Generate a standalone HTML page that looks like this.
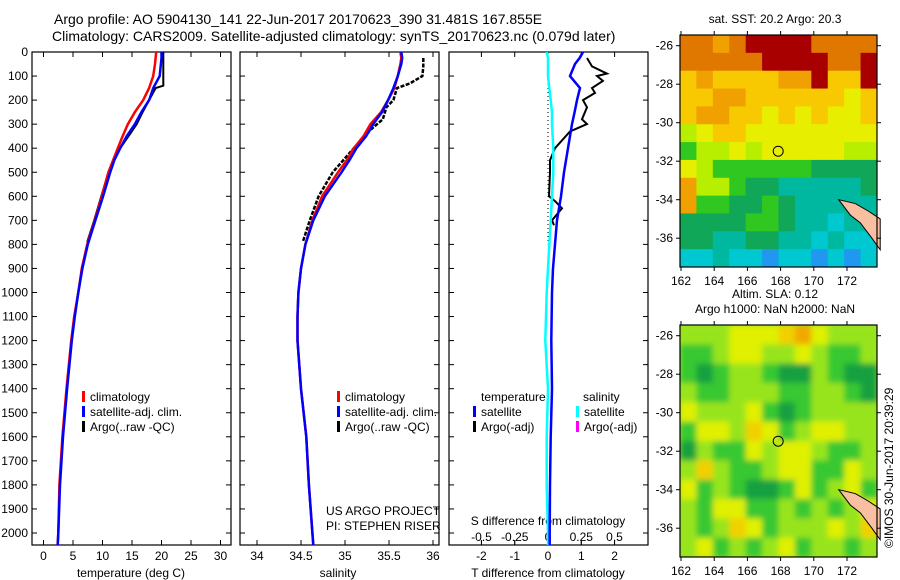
<!DOCTYPE html>
<html><head><meta charset="utf-8"><style>
body{margin:0;background:#fff;}
svg{display:block;font-family:"Liberation Sans",sans-serif;}
</style></head><body>
<svg id="chart" width="900" height="580" viewBox="0 0 900 580" xmlns="http://www.w3.org/2000/svg">
<defs>
<filter id="soft" x="0" y="0" width="1" height="1"><feGaussianBlur stdDeviation="3"/></filter>
<clipPath id="clipSla"><rect x="680" y="325" width="197" height="232"/></clipPath>
</defs>
<g id="g"></g>
</svg>
<script>
// ---- data ----
const depthClim = [0,25,50,100,150,200,250,300,350,400,450,500,600,700,800,900,1000,1100,1200,1400,1600,1800,2000,2050];
const tempClim  = [19.1,19.0,18.9,18.6,17.9,16.9,15.5,14.3,13.4,12.6,11.8,11.0,9.9,8.7,7.4,6.5,5.9,5.2,4.7,3.9,3.2,2.7,2.5,2.4];
const tempSat   = [20.0,20.0,19.9,19.7,18.6,17.9,16.6,15.5,14.1,13.0,12.0,11.3,10.1,8.8,7.5,6.6,5.9,5.3,4.8,4.0,3.3,2.8,2.5,2.4];
const salClim   = [35.63,35.64,35.63,35.60,35.56,35.49,35.41,35.29,35.21,35.10,35.02,34.92,34.74,34.63,34.55,34.50,34.47,34.46,34.46,34.50,34.56,34.59,34.63,34.64];
const salSat    = [35.64,35.65,35.64,35.60,35.55,35.49,35.42,35.32,35.24,35.13,35.05,34.96,34.77,34.64,34.55,34.50,34.47,34.46,34.46,34.50,34.56,34.59,34.63,34.64];
const depthArgo = [0,50,100,140,150,200,250,300,350,400,450,500,600,700,790];
const tempArgo  = [20.3,20.3,20.3,20.3,19.0,17.9,16.8,15.8,14.4,13.0,11.9,11.0,9.8,8.6,7.4];
const depthArgoS = [25,60,100,130,150,200,230,280,320,400,500,600,700,790];
const salArgo    = [35.89,35.89,35.88,35.74,35.59,35.55,35.47,35.43,35.30,35.10,34.86,34.70,34.60,34.52];
const depthDiff  = [0,25,50,100,150,200,250,300,400,500,600,700,800,900,1000,1200,1400,1600,1800,2000,2050];
const tDiffSat   = [1.05,0.95,0.81,0.66,0.96,0.87,0.80,0.72,0.60,0.48,0.39,0.27,0.21,0.15,0.12,0.10,0.12,0.08,0.06,0.05,0.05];
const sDiffSat   = [-0.01,0.0,0.0,0.0,0.01,0.02,0.03,0.03,0.04,0.04,0.03,0.02,0.01,0.0,-0.01,-0.02,0.0,-0.01,-0.01,0.0,0.0];
const depthDiffArgo = [25,60,90,100,120,150,170,200,230,280,300,330,400,450,500,600,620,650,700,720];
const tDiffArgo  = [1.17,1.32,1.77,1.47,1.65,1.32,1.41,1.05,1.17,1.02,1.17,0.66,0.21,0.06,0.06,0.03,0.21,0.42,0.12,0.18];
const depthTicks = [0,100,200,300,400,500,600,700,800,900,1000,1100,1200,1300,1400,1500,1600,1700,1800,1900,2000];
const tempTicks = [0,5,10,15,20,25,30];
const salTicks = [34,34.5,35,35.5,36];
const salTickLabels = ["34","34.5","35","35.5","36"];
const tdTicks = [-2,-1,0,1,2];
const sdTicks = [-0.5,-0.25,0,0.25,0.5];
const sdTickLabels = ["-0.5","-0.25","0","0.25","0.5"];
const lonTicks = [162,164,166,168,170,172];
const latTicks = [-26,-28,-30,-32,-34,-36];
// SST map rows (north->south), 12 cols from 162E
const sstRows = ["OOoORRRROOOO","OOOOORRRROOR","YoYYYYooRYYR","YYooYYYYYYyY","YooYYyYyYyyY","LyYYyyyyyyyy","GLLyLyyyyyLL","yLGGGGGGgggg","oLLGggTTTTTg","oGGggGgTTTTT","ggggGGgTTCTT","ggTTggTTCTCC","CCTCCBCCBCBC"];
const slaRows = ["LLLyyyoOyLLL","GGLyyLLyLGGL","GDGLLGDDLGDD","LGGLLLGGLLGD","yLLLyGDGLLLL","GyyLoyGLyyLL","DLGGyLyyLGGL","LoLGGLyyGGyL","yGLGDDGyGLyG","LGyyGGLGLGLy","LGLoyGLLLyLo","LyGLGLyGLLGL"];
const argoLon = 167.855, argoLat = -31.481;

// ---- helpers ----
const NS="http://www.w3.org/2000/svg";
const root=document.getElementById('g');
function el(tag,attrs,parent){const e=document.createElementNS(NS,tag);for(const k in attrs)e.setAttribute(k,attrs[k]);(parent||root).appendChild(e);return e;}
function txt(x,y,s,anchor,parent,size){const t=el('text',{x:x,y:y,'font-size':size||12,'text-anchor':anchor||'start',fill:'#000'},parent);t.textContent=s;return t;}
const Y0=52, PY=0.2405; const yD=d=>Y0+d*PY; const BOT=545;
const xT=v=>43.5+v*5.9;
const xS=v=>257+(v-34)*88;
const xTD=v=>548+v*33.3;
const xSD=v=>548+v*133;
function poly(xs,ds,fx,color,w,name,parent,dash){
  const p=xs.map((v,i)=>fx(v).toFixed(1)+','+yD(ds[i]).toFixed(1)).join(' ');
  const e=el('polyline',{points:p,fill:'none',stroke:color,'stroke-width':w},parent);
  if(dash)e.setAttribute('stroke-dasharray',dash);
  
  
  return e;
}

// titles
let t1=txt(54,24,"Argo profile: AO 5904130_141 22-Jun-2017 20170623_390 31.481S 167.855E",'start',null,14);


let t2=txt(52,41,"Climatology: CARS2009. Satellite-adjusted climatology: synTS_20170623.nc (0.079d later)",'start',null,14);



function panel(name,x0,x1){
  const g=el('g',{});
  
  
  el('rect',{x:x0,y:Y0,width:x1-x0,height:BOT-Y0,fill:'#fff',stroke:'#000','stroke-width':1.2},g);
  depthTicks.forEach(d=>{el('line',{x1:x0,x2:x0+5,y1:yD(d),y2:yD(d),stroke:'#000'},g);el('line',{x1:x1-5,x2:x1,y1:yD(d),y2:yD(d),stroke:'#000'},g);});
  return g;
}
// panel 1 temperature
const p1=panel('temperature-panel',32,231);
tempTicks.forEach(v=>{el('line',{x1:xT(v),x2:xT(v),y1:Y0,y2:Y0+5,stroke:'#000'},p1);el('line',{x1:xT(v),x2:xT(v),y1:BOT-5,y2:BOT,stroke:'#000'},p1);txt(xT(v),560,String(v),'middle',p1);});
depthTicks.forEach(d=>txt(28,yD(d)+4,String(d),'end',p1));
txt(131,577,"temperature (deg C)",'middle',p1);
poly(tempArgo,depthArgo,xT,'#000',2,'argo-temperature-line',p1);
poly(tempClim,depthClim,xT,'#f00',2.5,'climatology-temperature-line',p1);
poly(tempSat,depthClim,xT,'#00f',2.5,'satellite-temperature-line',p1);
function legend(g,x,y,items){items.forEach((it,i)=>{el('rect',{x:x,y:y+i*15-10,width:3,height:11,fill:it[0]},g);txt(x+8,y+i*15,it[1],'start',g);});}
legend(p1,82,401,[['#f00','climatology'],['#00f','satellite-adj. clim.'],['#000','Argo(..raw -QC)']]);

// panel 2 salinity
const p2=panel('salinity-panel',240,439);
salTicks.forEach((v,i)=>{el('line',{x1:xS(v),x2:xS(v),y1:Y0,y2:Y0+5,stroke:'#000'},p2);el('line',{x1:xS(v),x2:xS(v),y1:BOT-5,y2:BOT,stroke:'#000'},p2);txt(xS(v),560,salTickLabels[i],'middle',p2);});
txt(338,577,"salinity",'middle',p2);
poly(salArgo,depthArgoS,xS,'#000',2.5,'argo-salinity-line',p2,'4,1.5');
poly(salClim,depthClim,xS,'#f00',2.5,'climatology-salinity-line',p2);
poly(salSat,depthClim,xS,'#00f',2.5,'satellite-salinity-line',p2);
legend(p2,337,401,[['#f00','climatology'],['#00f','satellite-adj. clim.'],['#000','Argo(..raw -QC)']]);
txt(326,515,"US ARGO PROJECT",'start',p2);
txt(326,530,"PI: STEPHEN RISER",'start',p2);

// panel 3 differences
const p3=panel('difference-panel',449,648);
tdTicks.forEach(v=>{el('line',{x1:xTD(v),x2:xTD(v),y1:Y0,y2:Y0+5,stroke:'#000'},p3);el('line',{x1:xTD(v),x2:xTD(v),y1:BOT-5,y2:BOT,stroke:'#000'},p3);txt(xTD(v),560,String(v),'middle',p3);});
sdTicks.forEach((v,i)=>{el('line',{x1:xSD(v),x2:xSD(v),y1:BOT-5,y2:BOT,stroke:'#000'},p3);txt(xSD(v),541,sdTickLabels[i],'middle',p3);});
txt(548,525,"S difference from climatology",'middle',p3);
txt(548,577,"T difference from climatology",'middle',p3);
const zl=el('line',{x1:548,x2:548,y1:yD(100),y2:yD(800),stroke:'#000','stroke-dasharray':'1,3'},p3);


poly(tDiffArgo,depthDiffArgo,xTD,'#000',2,'argo-temperature-diff-line',p3);
poly(sDiffSat,depthDiff,xSD,'#0ff',2.5,'satellite-salinity-diff-line',p3);
poly(tDiffSat,depthDiff,xTD,'#00f',2.5,'satellite-temperature-diff-line',p3);
txt(481,401,"temperature",'start',p3);
txt(583,401,"salinity",'start',p3);
legend(p3,473,416,[['#00f','satellite'],['#000','Argo(-adj)']]);
legend(p3,576,416,[['#0ff','satellite'],['#f0f','Argo(-adj)']]);

// maps
const sstCol={R:'#a80000',O:'#e07800',o:'#f0a000',Y:'#f8c800',y:'#e8ee00',L:'#b8ee00',G:'#30c820',g:'#10a858',T:'#00b8a0',C:'#00c8d0',B:'#2098f0'};
const slaCol={D:'#14a040',G:'#38c830',L:'#98e41c',y:'#e0f000',o:'#f2d000',O:'#f0a800'};
function map(name,top,rows,cols,title,soft){
  const g=el('g',{});
  
  
  const L=680,R=877,B=top+232;
  const xl=v=>681+(v-162)*16.6, yl=v=>(top+10.7)+(-26-v)*19.25;
  const nr=rows.length, nc=rows[0].length, cw=(R-L)/nc, ch=(B-top)/nr;
  let cg=g;
  if(soft){const outer=el('g',{'clip-path':'url(#clipSla)'},g);el('rect',{x:L,y:top,width:R-L,height:B-top,fill:'#98e41c'},outer);cg=el('g',{filter:'url(#soft)'},outer);}
  rows.forEach((r,i)=>{for(let j=0;j<nc;j++){const c=el('rect',{x:L+j*cw,y:top+i*ch,width:cw+0.5,height:ch+0.5,fill:cols[r[j]]},cg);
    
    }});
  el('path',{d:`M${xl(171.5)},${yl(-34)} L${xl(172.5)},${yl(-34.2)} L${xl(173.3)},${yl(-34.6)} L${xl(174)},${yl(-35)} L${xl(174)},${yl(-36.6)} L${xl(173.5)},${yl(-36)} L${xl(172.8)},${yl(-35.2)} L${xl(172.2)},${yl(-34.8)} Z`,fill:'#f8c0a0',stroke:'#000','stroke-width':1},g);
  el('circle',{cx:xl(argoLon),cy:yl(argoLat),r:5,fill:'none',stroke:'#000','stroke-width':1},g);
  el('rect',{x:L,y:top,width:R-L,height:B-top,fill:'none',stroke:'#000','stroke-width':1.2},g);
  lonTicks.forEach(v=>{el('line',{x1:xl(v),x2:xl(v),y1:top-4,y2:top,stroke:'#000'},g);el('line',{x1:xl(v),x2:xl(v),y1:B,y2:B+4,stroke:'#000'},g);txt(xl(v),B+18,String(v),'middle',g);});
  latTicks.forEach(v=>{el('line',{x1:L-4,x2:L,y1:yl(v),y2:yl(v),stroke:'#000'},g);el('line',{x1:R,x2:R+4,y1:yl(v),y2:yl(v),stroke:'#000'},g);txt(L-7,yl(v)+4,String(v),'end',g);});
  title.forEach((s,i)=>txt(775,top-12-(title.length-1-i)*15,s,'middle',g));
  return g;
}
map('sst-map',35,sstRows,sstCol,["sat. SST: 20.2 Argo: 20.3"],false);
map('sla-map',325,slaRows,slaCol,["Altim. SLA: 0.12","Argo h1000: NaN h2000: NaN"],true);
const ts=el('text',{x:0,y:0,'font-size':12,transform:'translate(893,548) rotate(-90)'});
ts.textContent="©IMOS 30-Jun-2017 20:39:29";


</script>
</body></html>
